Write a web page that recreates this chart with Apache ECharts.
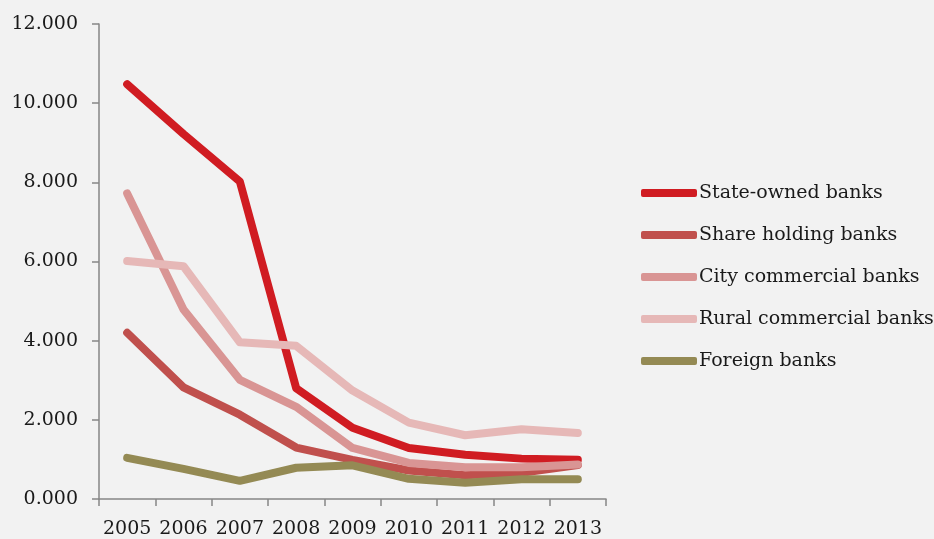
<!DOCTYPE html>
<html>
<head>
<meta charset="utf-8">
<script src="https://cdn.jsdelivr.net/npm/echarts@6/dist/echarts.min.js"></script>
<style>
  html, body { margin: 0; padding: 0; background: #f2f2f2; }
  #chart { width: 934px; height: 539px; }
</style>
</head>
<body>
<div id="chart"></div>
<script>
// Years on the category axis
const years = ['2005', '2006', '2007', '2008', '2009', '2010', '2011', '2012', '2013'];

// One array per bank type
const stateOwned      = [10.48, 9.22, 8.02, 2.80, 1.80, 1.29, 1.12, 1.02, 0.99];
const shareHolding    = [4.20, 2.82, 2.13, 1.30, 0.99, 0.72, 0.60, 0.66, 0.86];
const cityCommercial  = [7.72, 4.79, 3.01, 2.33, 1.29, 0.91, 0.80, 0.80, 0.87];
const ruralCommercial = [6.01, 5.88, 3.96, 3.87, 2.74, 1.93, 1.61, 1.76, 1.67];
const foreignBanks    = [1.04, 0.76, 0.46, 0.79, 0.85, 0.51, 0.41, 0.50, 0.50];

// Value-axis tick labels
const yTicks = [0, 2, 4, 6, 8, 10, 12];

const seriesNames = ['State-owned banks', 'Share holding banks', 'City commercial banks',
                     'Rural commercial banks', 'Foreign banks'];
const seriesData = [stateOwned, shareHolding, cityCommercial, ruralCommercial, foreignBanks];
const seriesColors = ['#d01c22', '#c0504d', '#d99594', '#e6b8b7', '#948a54'];

const font = 'DejaVu Serif';

const chart = echarts.init(document.getElementById('chart'), null, { renderer: 'canvas' });

chart.setOption({
  animation: false,
  backgroundColor: '#f2f2f2',
  grid: { left: 99, right: 328, top: 24, bottom: 39, containLabel: false },
  legend: {
    orient: 'vertical',
    left: 636,
    top: 177,
    icon: 'roundRect',
    itemWidth: 56,
    itemHeight: 8,
    itemGap: 20,
    textStyle: { fontFamily: font, fontSize: 19, color: '#1a1a1a', padding: [0, 0, 0, -3], lineHeight: 22 },
    data: seriesNames
  },
  xAxis: {
    type: 'category',
    data: years,
    boundaryGap: true,
    axisLine: { lineStyle: { color: '#868686', width: 1.5 } },
    axisTick: { show: true, length: 7, lineStyle: { color: '#868686', width: 1.5 } },
    axisLabel: { fontFamily: font, fontSize: 19, color: '#1a1a1a', margin: 21, interval: 0 }
  },
  yAxis: {
    type: 'value',
    min: yTicks[0],
    max: yTicks[yTicks.length - 1],
    interval: 2,
    splitLine: { show: false },
    axisLine: { show: true, lineStyle: { color: '#868686', width: 1.5 } },
    axisTick: { show: true, length: 7, lineStyle: { color: '#868686', width: 1.5 } },
    axisLabel: {
      fontFamily: font, fontSize: 19, color: '#1a1a1a', margin: 21,
      formatter: v => v.toFixed(3)
    }
  },
  series: seriesNames.map((name, i) => ({
    name,
    type: 'line',
    data: seriesData[i],
    showSymbol: false,
    symbol: 'none',
    color: seriesColors[i],
    lineStyle: { width: 8, color: seriesColors[i], cap: 'round', join: 'round' },
    itemStyle: { color: seriesColors[i] }
  }))
});
</script>
</body>
</html>
